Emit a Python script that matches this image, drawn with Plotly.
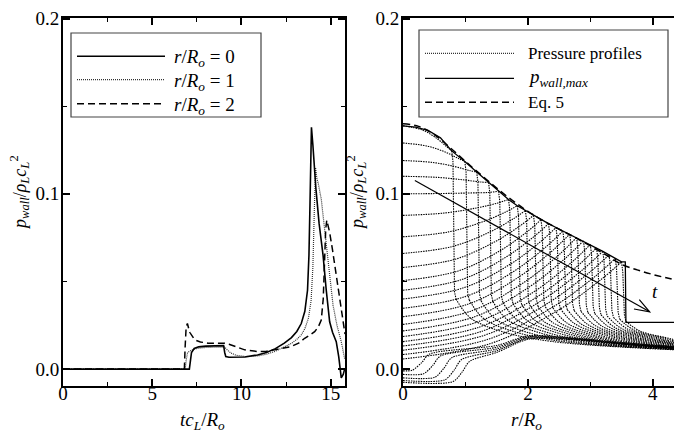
import plotly.graph_objects as go

W, H = 682, 434
SERIF = "Liberation Serif, DejaVu Serif, serif"

# ---------------- left panel: wall pressure histories ----------------
t_r0 = [0, 7.08, 7.13, 7.2, 7.35, 7.6, 8.0, 8.5, 9.0, 9.06, 9.12, 9.3, 9.7, 10.2, 10.9, 11.4,
        11.9, 12.4, 12.8, 13.1, 13.35, 13.55, 13.7, 13.78, 13.84, 13.92, 14.0, 14.17, 14.35,
        14.57, 14.75, 14.94, 15.1, 15.31, 15.45, 15.59, 15.7, 15.78]
p_r0 = [0, 0, 0.004, 0.0095, 0.0118, 0.0127, 0.0131, 0.0133, 0.0134, 0.0095, 0.0072, 0.0068,
        0.0067, 0.0069, 0.0081, 0.0095, 0.0117, 0.0148, 0.018, 0.0215, 0.026, 0.033, 0.045,
        0.065, 0.095, 0.138, 0.128, 0.103, 0.083, 0.065, 0.045, 0.027, 0.021, 0.0157, 0.007,
        -0.005, -0.003, 0.0]

t_r1 = [0, 6.85, 6.9, 6.98, 7.2, 7.5, 8.0, 8.5, 9.05, 9.2, 9.4, 9.7, 10.2, 10.9, 11.4, 11.9,
        12.4, 12.8, 13.1, 13.35, 13.55, 13.75, 13.9, 14.0, 14.08, 14.15, 14.22, 14.3, 14.47,
        14.65, 14.85, 15.0, 15.13, 15.35, 15.59, 15.78]
p_r1 = [0, 0, 0.005, 0.0095, 0.0108, 0.0118, 0.0124, 0.0126, 0.0126, 0.011, 0.0092, 0.0079,
        0.0072, 0.0075, 0.0085, 0.0102, 0.0125, 0.0147, 0.017, 0.0195, 0.023, 0.029, 0.039,
        0.058, 0.09, 0.115, 0.109, 0.106, 0.097, 0.081, 0.065, 0.049, 0.0365, 0.025, 0.0157,
        0.006]

t_r2 = [0, 6.8, 6.84, 6.9, 6.97, 7.1, 7.38, 7.7, 8.12, 8.6, 9.06, 9.3, 9.62, 10.18, 10.92,
        11.4, 11.86, 12.3, 12.79, 13.2, 13.54, 13.85, 14.1, 14.3, 14.47, 14.58, 14.66, 14.72,
        14.78, 14.85, 14.94, 15.1, 15.31, 15.5, 15.69, 15.8]
p_r2 = [0, 0, 0.012, 0.024, 0.026, 0.021, 0.0167, 0.0155, 0.0148, 0.0147, 0.0148, 0.0142,
        0.0129, 0.011, 0.0100, 0.0102, 0.011, 0.0118, 0.0129, 0.0148, 0.0176, 0.0195, 0.0214,
        0.024, 0.028, 0.04, 0.065, 0.08, 0.085, 0.082, 0.078, 0.068, 0.0536, 0.04, 0.027, 0.02]

# ---------------- right panel: pressure profiles ----------------
front_r = [0.78, 0.99, 1.18, 1.37, 1.53, 1.69, 1.83, 1.96, 2.09, 2.21, 2.33, 2.45, 2.56, 2.67,
           2.78, 2.89, 3.00, 3.10, 3.20, 3.30, 3.40, 3.50]
center_p = [0.1388, 0.129, 0.119, 0.110, 0.100, 0.0877, 0.0755, 0.066, 0.058, 0.0505, 0.045,
            0.040, 0.0347, 0.0299, 0.0255, 0.0218, 0.0186, 0.0157, 0.0132, 0.0108, 0.0083, 0.0058]
arc_p40 = [0.1364, 0.1272, 0.1179, 0.1094, 0.1002, 0.0891, 0.0783, 0.0699, 0.0627, 0.0560,
           0.0510, 0.0465, 0.0417, 0.0374, 0.0334, 0.0300, 0.0270, 0.0242, 0.0218, 0.0195,
           0.0170, 0.0146]
arc_p70 = [0.1315, 0.1236, 0.1156, 0.1080, 0.1005, 0.0920, 0.0841, 0.0779, 0.0725, 0.0674,
           0.0635, 0.0598, 0.0562, 0.0529, 0.0497, 0.0469, 0.0442, 0.0417, 0.0396, 0.0374,
           0.0350, 0.0328]
arc_p90 = [0.1268, 0.1201, 0.1133, 0.1068, 0.1008, 0.0948, 0.0897, 0.0857, 0.0819, 0.0784,
           0.0756, 0.0728, 0.0702, 0.0679, 0.0654, 0.0633, 0.0609, 0.0587, 0.0568, 0.0547,
           0.0524, 0.0505]
peak_p = [0.1245, 0.1185, 0.1125, 0.1065, 0.1015, 0.0968, 0.0932, 0.0905, 0.0877, 0.0852,
          0.0830, 0.0808, 0.0788, 0.0770, 0.0751, 0.0732, 0.0711, 0.0691, 0.0672, 0.0652,
          0.0631, 0.0612]
knee_p = [0.0400, 0.0395, 0.0390, 0.0385, 0.0380, 0.0375, 0.0370, 0.0365, 0.0360, 0.0355,
          0.0350, 0.0345, 0.0340, 0.0335, 0.0330, 0.0324, 0.0318, 0.0311, 0.0303, 0.0295,
          0.0285, 0.0272]
tail_p03 = [0.0292, 0.0289, 0.0286, 0.0283, 0.0280, 0.0277, 0.0274, 0.0271, 0.0268, 0.0265,
            0.0262, 0.0259, 0.0256, 0.0252, 0.0248, 0.0244, 0.0240, 0.0236, 0.0232, 0.0228,
            0.0223, 0.0217]
tail_p08 = [0.0215, 0.0213, 0.0211, 0.0209, 0.0207, 0.0205, 0.0203, 0.0201, 0.0199, 0.0197,
            0.0195, 0.0193, 0.0191, 0.0189, 0.0187, 0.0185, 0.0183, 0.0181, 0.0179, 0.0177,
            0.0175, 0.0172]
tail_p16 = [0.0158, 0.0156, 0.0154, 0.0152, 0.0150, 0.0148, 0.0146, 0.0144, 0.0142, 0.0140,
            0.0138, 0.0137, 0.0136, 0.0135, 0.0134, None, None, None, None, None, None, None]
tail_end = [0.0108, 0.0110, 0.0111, 0.0112, 0.0113, 0.0114, 0.0115, 0.0116, 0.0117, 0.0118,
            0.0120, 0.0122, 0.0124, 0.0126, 0.0128, 0.0130, 0.0132, 0.0135, 0.0138, 0.0141,
            0.0145, 0.0150]

# late profiles (negative centre) with a step near the axis
step_center = [-0.001, -0.003, -0.005, -0.0065, -0.0075]
step_r = [0.30, 0.48, 0.66, 0.82, 0.95]
step_after = [0.0085, 0.0075, 0.0065, 0.0055, 0.0045]
step_p15 = [0.0135, 0.0125, 0.0115, 0.0105, 0.0095]
step_p20 = [0.0190, 0.0185, 0.0180, 0.0175, 0.0170]
step_p26 = [0.0182, 0.0179, 0.0176, 0.0173, 0.0170]
step_p34 = [0.0155, 0.0152, 0.0150, 0.0148, 0.0146]
step_end = [0.0125, 0.0122, 0.0120, 0.0118, 0.0116]

eq5_r = [0, 0.25, 0.5, 0.75, 1.0, 1.25, 1.5, 1.75, 2.0, 2.25, 2.5, 2.75, 3.0, 3.25, 3.5,
         3.75, 4.0, 4.25, 4.5]
eq5_p = [0.1400, 0.1385, 0.1338, 0.1265, 0.1185, 0.1108, 0.1033, 0.0963, 0.0900, 0.0846,
         0.0798, 0.0752, 0.0703, 0.0652, 0.0598, 0.0566, 0.0540, 0.0518, 0.0497]

pmax_lead_r = [0, 0.2, 0.4, 0.6]
pmax_lead_p = [0.1388, 0.1381, 0.1362, 0.1320]
pmax_tail_r = [3.56, 3.57, 4.5]
pmax_tail_p = [0.0612, 0.0267, 0.0267]

arrow_start = (0.19, 0.1076)
arrow_tip = (3.95, 0.0327)
arrow_barbs = [(3.784, 0.0397), (3.699, 0.0343)]
t_label = (4.04, 0.0445)

# ---------------- build figure ----------------
DOT = "1.5px,1px"
fig = go.Figure()

# left panel
fig.add_trace(go.Scatter(x=t_r1, y=p_r1, mode="lines", xaxis="x", yaxis="y",
                         line=dict(color="#333", width=1.2, dash="1px,1px")))
fig.add_trace(go.Scatter(x=t_r2, y=p_r2, mode="lines", xaxis="x", yaxis="y",
                         line=dict(color="black", width=1.5, dash="7px,4px")))
fig.add_trace(go.Scatter(x=t_r0, y=p_r0, mode="lines", xaxis="x", yaxis="y",
                         line=dict(color="black", width=1.6)))

# right panel profiles
ax_, ay_, fx, fy, tx, ty = [], [], [], [], [], []
for k, R in enumerate(front_r):
    ax_ += [0, 0.4 * R, 0.7 * R, 0.9 * R, R, None]
    ay_ += [center_p[k], arc_p40[k], arc_p70[k], arc_p90[k], peak_p[k], None]
    fx += [R, R + 0.02, R + 0.045, R + 0.07, None]
    fy += [peak_p[k], peak_p[k] - 0.006, knee_p[k] + 0.004, knee_p[k], None]
    xs = [R + 0.07, R + 0.3, R + 0.8]
    ys = [knee_p[k], tail_p03[k], tail_p08[k]]
    if tail_p16[k] is not None:
        xs.append(R + 1.6)
        ys.append(tail_p16[k])
    xs.append(4.5)
    ys.append(tail_end[k])
    tx += xs + [None]
    ty += ys + [None]

sx, sy = [], []
for k, rs in enumerate(step_r):
    sx += [0, rs - 0.15, rs, rs + 0.12, 1.5, 2.0, 2.6, 3.4, 4.5, None]
    sy += [step_center[k], step_center[k] + 0.0004, (step_center[k] + step_after[k]) / 2,
           step_after[k], step_p15[k], step_p20[k], step_p26[k], step_p34[k], step_end[k], None]

prof_line = dict(color="black", width=1.1, dash=DOT)
fig.add_trace(go.Scatter(x=ax_, y=ay_, mode="lines", xaxis="x2", yaxis="y2",
                         line=dict(shape="spline", smoothing=1.0, **prof_line)))
fig.add_trace(go.Scatter(x=fx, y=fy, mode="lines", xaxis="x2", yaxis="y2", line=prof_line))
fig.add_trace(go.Scatter(x=tx, y=ty, mode="lines", xaxis="x2", yaxis="y2",
                         line=dict(shape="spline", smoothing=1.0, **prof_line)))
fig.add_trace(go.Scatter(x=sx, y=sy, mode="lines", xaxis="x2", yaxis="y2",
                         line=dict(shape="spline", smoothing=0.8, **prof_line)))

fig.add_trace(go.Scatter(x=eq5_r, y=eq5_p, mode="lines", xaxis="x2", yaxis="y2",
                         line=dict(color="black", width=1.5, dash="7px,4px", shape="spline")))
fig.add_trace(go.Scatter(x=pmax_lead_r + front_r + pmax_tail_r,
                         y=pmax_lead_p + peak_p + pmax_tail_p,
                         mode="lines", xaxis="x2", yaxis="y2",
                         line=dict(color="black", width=1.3)))

# axes
y_dom = [(H - 378.3) / H, (H - 9.5) / H]
tick_common = dict(showgrid=False, zeroline=False, showline=True, linecolor="black",
                   linewidth=2, mirror="allticks", ticks="inside", ticklen=7, tickwidth=1.5,
                   tickcolor="black", automargin=False,
                   tickfont=dict(family=SERIF, size=19, color="black"))
minor_common = dict(ticks="inside", ticklen=4, tickwidth=1, tickcolor="black", showgrid=False)

fig.update_layout(
    width=W, height=H, margin=dict(l=0, r=0, t=0, b=0),
    paper_bgcolor="white", plot_bgcolor="white", showlegend=False,
    xaxis=dict(domain=[55 / W, 337 / W], range=[0, 15.8], tick0=0, dtick=5, anchor="y",
               ticklabelstandoff=-11,
               minor=dict(dtick=2.5, **minor_common), **tick_common),
    yaxis=dict(domain=y_dom, range=[-0.0098, 0.2006], tick0=0, dtick=0.1, tickformat=".1f",
               anchor="x", ticklabelstandoff=-2,
               minor=dict(dtick=0.05, **minor_common), **tick_common),
    xaxis2=dict(domain=[395 / W, 676 / W], range=[0, 4.5], tick0=0, dtick=2, anchor="y2",
                ticklabelstandoff=-11,
                minor=dict(dtick=1, **minor_common), **tick_common),
    yaxis2=dict(domain=y_dom, range=[-0.0098, 0.2006], tick0=0, dtick=0.1, tickformat=".1f",
                anchor="x2", ticklabelstandoff=-2,
                minor=dict(dtick=0.05, **minor_common), **tick_common),
)

def px(x):
    return x / W

def py(y):
    return 1 - y / H

ann = []
shapes = []
FONT = dict(family=SERIF, size=19, color="black")
TFONT = dict(family=SERIF, size=18, color="black")
LFONT = dict(family=SERIF, size=17, color="black")
ylab = "<i>p</i><sub><i>wall</i></sub>/<i>ρ</i><sub><i>L</i></sub><i>c</i><sub><i>L</i></sub><sup>2</sup>"
for xc in (11, 348):
    ann.append(dict(xref="paper", yref="paper", x=px(xc), y=py(185), text=ylab, showarrow=False,
                    textangle=-90, font=TFONT, xanchor="center", yanchor="middle"))
ann.append(dict(xref="paper", yref="paper", x=px(194), y=py(413),
                text="<i>tc</i><sub><i>L</i></sub>/<i>R</i><sub><i>o</i></sub>",
                showarrow=False, font=FONT, xanchor="center", yanchor="middle"))
ann.append(dict(xref="paper", yref="paper", x=px(518), y=py(413),
                text="<i>r</i>/<i>R</i><sub><i>o</i></sub>",
                showarrow=False, font=FONT, xanchor="center", yanchor="middle"))

# left legend
shapes.append(dict(type="rect", xref="paper", yref="paper", x0=px(63), x1=px(253), y0=py(109),
                   y1=py(25), line=dict(color="#444", width=1.2), fillcolor="white", layer="above"))
leg1 = [("<i>r</i>/<i>R</i><sub><i>o</i></sub> = 0", dict(color="black", width=1.6)),
        ("<i>r</i>/<i>R</i><sub><i>o</i></sub> = 1", dict(color="#333", width=1.2, dash="1px,1px")),
        ("<i>r</i>/<i>R</i><sub><i>o</i></sub> = 2", dict(color="black", width=1.5, dash="7px,4px"))]
for (txt, ln), yy in zip(leg1, (48.3, 71.7, 95.7)):
    shapes.append(dict(type="line", xref="paper", yref="paper", x0=px(69), x1=px(157),
                       y0=py(yy), y1=py(yy), line=ln, layer="above"))
    ann.append(dict(xref="paper", yref="paper", x=px(164), y=py(yy + 2), text=txt,
                    showarrow=False, font=FONT, xanchor="left", yanchor="middle"))

# right legend
shapes.append(dict(type="rect", xref="paper", yref="paper", x0=px(411), x1=px(660), y0=py(109),
                   y1=py(22), line=dict(color="#444", width=1.2), fillcolor="white", layer="above"))
leg2 = [("Pressure profiles", dict(color="black", width=1, dash="1px,1px")),
        ("<i>p</i><sub><i>wall,max</i></sub>", dict(color="black", width=1.3)),
        ("Eq. 5", dict(color="black", width=1.5, dash="7px,4px"))]
for (txt, ln), yy in zip(leg2, (45.3, 70.3, 94.3)):
    shapes.append(dict(type="line", xref="paper", yref="paper", x0=px(417), x1=px(506),
                       y0=py(yy), y1=py(yy), line=ln, layer="above"))
    ann.append(dict(xref="paper", yref="paper", x=px(518), y=py(yy), text=txt,
                    showarrow=False, font=LFONT if txt[0] != "<" else FONT,
                    xanchor="left", yanchor="middle"))

# time arrow
shapes.append(dict(type="line", xref="x2", yref="y2", x0=arrow_start[0], y0=arrow_start[1],
                   x1=arrow_tip[0], y1=arrow_tip[1], line=dict(color="black", width=1.2)))
path = "M{},{} L{},{} L{},{}".format(arrow_barbs[0][0], arrow_barbs[0][1], arrow_tip[0],
                                     arrow_tip[1], arrow_barbs[1][0], arrow_barbs[1][1])
shapes.append(dict(type="path", xref="x2", yref="y2", path=path,
                   line=dict(color="black", width=1.2)))
ann.append(dict(xref="x2", yref="y2", x=t_label[0], y=t_label[1], text="<i>t</i>",
                showarrow=False, font=FONT, xanchor="center", yanchor="middle"))

fig.update_layout(annotations=ann, shapes=shapes)
fig.write_html("out.html")
